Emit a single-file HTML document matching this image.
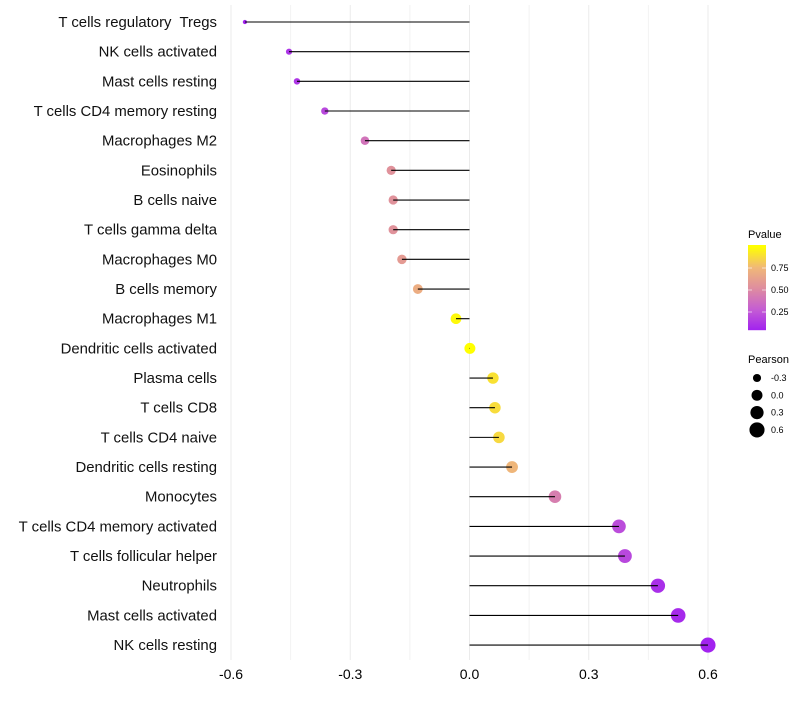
<!DOCTYPE html>
<html><head><meta charset="utf-8"><style>
body{margin:0;background:#fff;font-family:"Liberation Sans",sans-serif}
text{white-space:pre}
</style></head><body>
<svg id="c" width="800" height="700"></svg>
<script>
const cats=["T cells regulatory  Tregs","NK cells activated","Mast cells resting","T cells CD4 memory resting","Macrophages M2","Eosinophils","B cells naive","T cells gamma delta","Macrophages M0","B cells memory","Macrophages M1","Dendritic cells activated","Plasma cells","T cells CD8","T cells CD4 naive","Dendritic cells resting","Monocytes","T cells CD4 memory activated","T cells follicular helper","Neutrophils","Mast cells activated","NK cells resting"];
const pearson=[-0.565,-0.454,-0.434,-0.364,-0.263,-0.197,-0.192,-0.192,-0.170,-0.130,-0.034,0.001,0.059,0.064,0.074,0.107,0.215,0.376,0.391,0.474,0.525,0.600];
const pvals=[0.05,0.12,0.13,0.2,0.4,0.55,0.55,0.55,0.6,0.7,0.98,1.0,0.9,0.88,0.87,0.75,0.45,0.22,0.2,0.1,0.08,0.05];
const xTicks=[-0.6,-0.3,0.0,0.3,0.6];
const xMinor=[-0.45,-0.15,0.15,0.45];
const colTicks=[0.25,0.5,0.75];
const sizeTicks=[-0.3,0.0,0.3,0.6];

const NS="http://www.w3.org/2000/svg",svg=document.getElementById('c');
function el(t,a,p){const e=document.createElementNS(NS,t);for(const k in a)e.setAttribute(k,a[k]);(p||svg).appendChild(e);return e;}
const x=v=>469.5+v*397.5;
const y=i=>22+i*29.67;
const r=v=>Math.sqrt(Math.max(2,30+45*v));
const pMin=0.04,pMax=1.0;
function lerp(a,b,t){return a.map((v,i)=>Math.round(v+(b[i]-v)*t));}
const stops=[[160,32,240],[196,92,212],[222,140,160],[240,184,120],[255,255,0]];
function col(p){const t=Math.min(1,Math.max(0,(p-pMin)/(pMax-pMin)))*4;
 const k=Math.min(3,Math.floor(t));return `rgb(${lerp(stops[k],stops[k+1],t-k)})`;}
const pFromY=yy=>0.25+(312-yy)/88;
const yFromP=p=>312-(p-0.25)*88;

xMinor.forEach(v=>{const l=el('line',{x1:x(v),x2:x(v),y1:5,y2:660,stroke:'#f2f2f2','stroke-width':1});
});
xTicks.forEach(v=>{const l=el('line',{x1:x(v),x2:x(v),y1:5,y2:660,stroke:'#ebebeb','stroke-width':1});

const t=el('text',{x:x(v),y:679,'text-anchor':'middle','font-size':14,fill:'#000'});t.textContent=v.toFixed(1);
});

cats.forEach((c,i)=>{
 const t=el('text',{x:217,y:y(i)+5,'text-anchor':'end','font-size':14.9,fill:'#111'});t.textContent=c;
 
 const d=el('circle',{cx:x(pearson[i]),cy:y(i),r:r(pearson[i]),fill:col(pvals[i])});
 
 const l=el('line',{x1:x(0),x2:x(pearson[i]),y1:y(i),y2:y(i),stroke:'#000','stroke-width':1.1});
 
});

const lt=el('text',{x:748,y:238,'font-size':11});lt.textContent='Pvalue';

for(let yy=245;yy<330;yy++){const s=el('rect',{x:748,y:yy,width:18,height:1.2,fill:col(pFromY(yy))});
 }
colTicks.forEach(p=>{const yy=yFromP(p);
 el('line',{x1:748,x2:752,y1:yy,y2:yy,stroke:'#fff','stroke-opacity':0.6});
 el('line',{x1:762,x2:766,y1:yy,y2:yy,stroke:'#fff','stroke-opacity':0.6});
 const t=el('text',{x:771,y:yy+3,'font-size':9});t.textContent=p.toFixed(2);
 });
const st=el('text',{x:748,y:363,'font-size':11});st.textContent='Pearson';

sizeTicks.forEach((v,i)=>{const yy=378+i*17.3;
 const c=el('circle',{cx:757,cy:yy,r:r(v),fill:'#000'});
 
 const t=el('text',{x:771,y:yy+3,'font-size':9});t.textContent=v.toFixed(1);
 });
</script>
</body></html>
